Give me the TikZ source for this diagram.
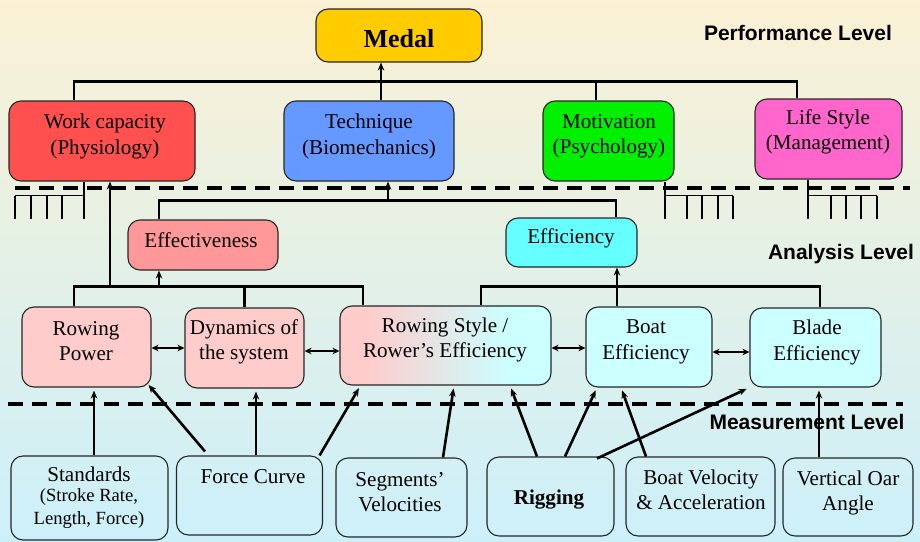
\documentclass[tikz,border=0pt]{standalone}
\usepackage{fontspec}
\setmainfont{Liberation Serif}
\newfontfamily\lvlfont{Liberation Sans}
\usetikzlibrary{arrows.meta,calc}
\definecolor{bgtop}{RGB}{251,241,212}
\definecolor{bgbot}{RGB}{204,240,250}
\definecolor{medalc}{RGB}{255,204,0}
\definecolor{workc}{RGB}{255,80,80}
\definecolor{techc}{RGB}{102,153,255}
\definecolor{motivc}{RGB}{0,240,0}
\definecolor{lifec}{RGB}{255,102,204}
\definecolor{effectc}{RGB}{255,153,153}
\definecolor{efficc}{RGB}{102,255,255}
\definecolor{pinkbox}{RGB}{255,204,204}
\definecolor{cyanbox}{RGB}{204,255,255}
\newcommand{\mainsz}{\fontsize{21.1}{25.5}\selectfont}
\newcommand{\smallsz}{\fontsize{18.6}{23}\selectfont}
\begin{document}
\begin{tikzpicture}[x=1pt,y=-1pt,
  box/.style={draw=black!85, line width=1.1pt, rounded corners=12pt, inner sep=0pt},
  txt/.style={align=center, font=\mainsz, inner sep=0pt},
  conn/.style={line width=2.6pt},
  arr/.style={conn, -{Stealth[length=8pt,width=6.5pt]}},
  marr/.style={arr, shorten >=3pt},
  darr/.style={conn, {Stealth[length=7pt,width=6.5pt]}-{Stealth[length=7pt,width=6.5pt]}},
  lvl/.style={font=\lvlfont\bfseries\fontsize{21}{24}\selectfont, inner sep=0pt},
  comb/.style={line width=1.6pt},
  dashline/.style={line width=3.5pt, dash pattern=on 15pt off 9pt}]

\fill[top color=bgtop, bottom color=bgbot] (0,0) rectangle (920,541);
\useasboundingbox (0,0) rectangle (920,541);

% ---------- boxes ----------
\node[box, fill=medalc, minimum width=166pt, minimum height=53pt] (medal) at (399,35.5) {};
\node[box, fill=workc, minimum width=186pt, minimum height=80pt] (work) at (102,141) {};
\node[box, fill=techc, minimum width=170pt, minimum height=80pt] (tech) at (369,141) {};
\node[box, fill=motivc, minimum width=131pt, minimum height=80pt] (motiv) at (608.5,141) {};
\node[box, fill=lifec, minimum width=147pt, minimum height=80pt] (life) at (828.5,139) {};
\node[box, fill=effectc, minimum width=150pt, minimum height=50pt] (effect) at (203,245) {};
\node[box, fill=efficc, minimum width=131pt, minimum height=49pt] (effic) at (571.5,242.5) {};
\node[box, fill=pinkbox, minimum width=129pt, minimum height=80pt] (rpow) at (86.5,347) {};
\node[box, fill=pinkbox, minimum width=119pt, minimum height=80pt] (dyn) at (244.5,348) {};
\node[box, minimum width=211pt, minimum height=79pt,
  path picture={
    \fill[pinkbox, sharp corners] (path picture bounding box.south west) rectangle ($(path picture bounding box.north west)!0.13!(path picture bounding box.north east)$);
    \shade[left color=pinkbox, right color=cyanbox, sharp corners] ($(path picture bounding box.south west)!0.129!(path picture bounding box.south east)$) rectangle ($(path picture bounding box.north west)!0.801!(path picture bounding box.north east)$);
    \fill[cyanbox, sharp corners] ($(path picture bounding box.south west)!0.8!(path picture bounding box.south east)$) rectangle (path picture bounding box.north east);
  }] (rstyle) at (445.5,345.5) {};
\node[box, fill=cyanbox, minimum width=126pt, minimum height=80pt] (boat) at (649,347) {};
\node[box, fill=cyanbox, minimum width=131pt, minimum height=79pt] (blade) at (815.5,347.5) {};
\node[box, minimum width=157pt, minimum height=84pt] (stand) at (89.5,498) {};
\node[box, minimum width=146pt, minimum height=79pt] (force) at (249.5,495.5) {};
\node[box, minimum width=131pt, minimum height=79pt] (seg) at (401.5,497.5) {};
\node[box, minimum width=127pt, minimum height=79pt] (rig) at (550.5,496.5) {};
\node[box, minimum width=149pt, minimum height=79pt] (bvel) at (700.5,496.5) {};
\node[box, minimum width=130pt, minimum height=78pt] (voa) at (848,497) {};

% ---------- texts ----------
\node[txt, font=\fontsize{26}{30}\selectfont\bfseries] (medalT) at (399,38.5) {Medal};
\node[txt] (workT) at (105,136.5) {Work capacity\\(Physiology)};
\node[txt] (techT) at (369,136.5) {Technique\\(Biomechanics)};
\node[txt] (motivT) at (609,136.5) {Motivation\\(Psychology)};
\node[txt] (lifeT) at (828,132) {Life Style\\(Management)};
\node[txt] (effectT) at (201,240) {Effectiveness};
\node[txt] (efficT) at (571,238) {Efficiency};
\node[txt] (rpowT) at (86,341) {Rowing\\Power};
\node[txt] (dynT) at (244,342) {Dynamics of\\the system};
\node[txt] (rstyleT) at (445,340) {Rowing Style /\\Rower’s Efficiency};
\node[txt] (boatT) at (646,342) {Boat\\Efficiency};
\node[txt] (bladeT) at (817,342.5) {Blade\\Efficiency};
\node[txt] (standT) at (89,474) {Standards};
\node[txt, font=\smallsz] (standT2) at (89,508.5) {(Stroke Rate,\\Length, Force)};
\node[txt] (forceT) at (253,477) {Force Curve};
\node[txt] (segT) at (400,492) {Segments’\\Velocities};
\node[txt, font=\mainsz\bfseries] (rigT) at (549,499) {Rigging};
\node[txt] (bvelT) at (701,490) {Boat Velocity\\\& Acceleration};
\node[txt] (voaT) at (848,493) {Vertical Oar\\Angle};

\node[lvl] (perfL) at (798,33) {Performance Level};
\node[lvl] (anaL) at (841,254) {Analysis Level};
\node[lvl] (measL) at (807,422) {Measurement Level};

% ---------- dashed level separators ----------
\draw[dashline] (15,188) -- (910,188);
\draw[dashline] (8,404) -- (903,404);

% ---------- top tree ----------
\draw[conn] ([xshift=-28pt]work.north) -- ++(0,-19) -| ([xshift=-31.5pt]life.north);
\draw[conn] ([xshift=-12.5pt]motiv.north) -- ++(0,-19);
\draw[arr] ([xshift=12pt]tech.north) -- ([xshift=-18pt]medal.south);

% combs
\coordinate (wc) at ([xshift=-18pt]work.south);
\draw[comb] (wc) -- ++(0,37);
\draw[comb] ([yshift=-14pt]wc) -- ++(-69,0);
\foreach \dx in {-69,-53,-37,-22} \draw[comb] ([xshift=\dx*1pt,yshift=-14pt]wc) -- ++(0,23);
\coordinate (mc) at ([xshift=56.5pt]motiv.south);
\draw[comb] (mc) -- ++(0,37);
\draw[comb] ([yshift=-14pt]mc) -- ++(68,0);
\foreach \dx in {22,37,53,68} \draw[comb] ([xshift=\dx*1pt,yshift=-14pt]mc) -- ++(0,23);
\coordinate (lc) at ([xshift=-20.5pt]life.south);
\draw[comb] (lc) -- ++(0,39);
\draw[comb] ([yshift=-16pt]lc) -- ++(69,0);
\foreach \dx in {23,38,53,69} \draw[comb] ([xshift=\dx*1pt,yshift=-16pt]lc) -- ++(0,23);

% ---------- middle tree ----------
\draw[conn] ([xshift=-44pt]effect.north) -- ++(0,-19) -| ([xshift=44.5pt]effic.north);
\draw[arr] ([xshift=19pt,yshift=-20pt]tech.south) -- ([xshift=19pt]tech.south);

% effectiveness tree
\draw[conn] ([xshift=-12.5pt]rpow.north) -- ++(0,-20) -| ([xshift=-82.5pt]rstyle.north);
\draw[conn] (dyn.north) -- ++(0,-21);
\draw[arr] ([xshift=-44pt,yshift=-17pt]effect.south) -- ([xshift=-44pt]effect.south);
\draw[arr] ([xshift=8pt,yshift=-106pt]work.south) -- ([xshift=8pt]work.south);

% efficiency tree
\draw[conn] ([xshift=35.5pt]rstyle.north) -- ++(0,-19) -| ([xshift=4.5pt]blade.north);
\draw[conn] ([xshift=-32pt]boat.north) -- ++(0,-20);
\draw[arr] ([xshift=45.5pt,yshift=-20pt]effic.south) -- ([xshift=45.5pt]effic.south);

% double arrows
\draw[darr] ([yshift=-1pt]rpow.east) -- ([yshift=0pt]dyn.west);
\draw[darr] ([yshift=-3pt]dyn.east) -- ([yshift=-5.5pt]rstyle.west);
\draw[darr] ([yshift=-2.5pt]rstyle.east) -- ([yshift=-1pt]boat.west);
\draw[darr] ([yshift=-5pt]boat.east) -- ([yshift=-4.5pt]blade.west);

% ---------- measurement arrows ----------
\draw[marr] ([xshift=4.5pt]stand.north) -- ([xshift=7.5pt]rpow.south);
\draw[marr] ([xshift=-44.5pt,yshift=4pt]force.north) -- ([xshift=-5pt,yshift=5pt]rpow.south east);
\draw[marr] ([xshift=6.5pt]force.north) -- ([xshift=11.5pt]dyn.south);
\draw[marr] ([xshift=-3.5pt]force.north east) -- ([xshift=21pt]rstyle.south west);
\draw[marr] ([xshift=41.5pt]seg.north) -- ([xshift=8.5pt]rstyle.south);
\draw[marr] ([xshift=-13.5pt]rig.north) -- ([xshift=64.5pt]rstyle.south);
\draw[marr] ([xshift=14.5pt]rig.north) -- ([xshift=-52pt]boat.south);
\draw[marr] ([xshift=46.5pt,yshift=-2pt]rig.north) -- (blade.south west);
\draw[marr] ([xshift=-54.5pt]bvel.north) -- ([xshift=-28pt]boat.south);
\draw[marr] ([xshift=-29pt]voa.north) -- ([xshift=3.5pt]blade.south);
\end{tikzpicture}
\end{document}
